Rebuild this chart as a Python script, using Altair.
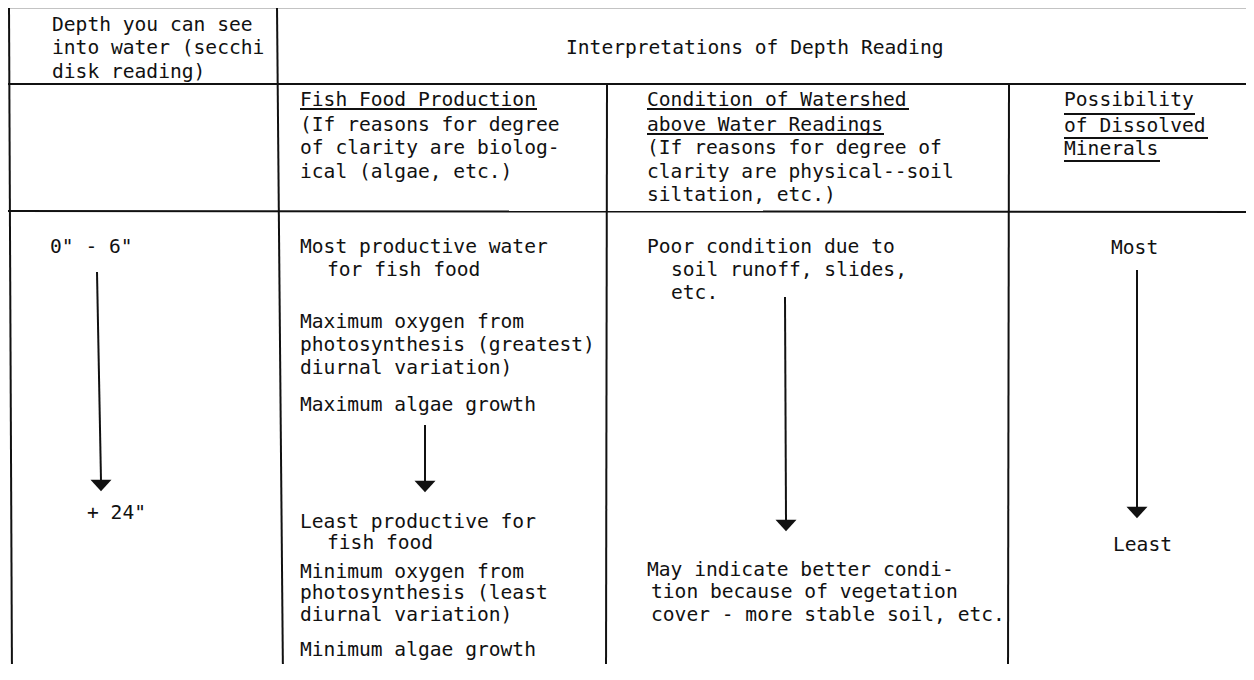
import altair as alt
import pandas as pd

# ---- table text (content, left x, line centre y) ----
TEXTS = [
    "Depth you can see", "into water (secchi", "disk reading)",
    "Interpretations of Depth Reading",
    "Fish Food Production", "(If reasons for degree", "of clarity are biolog-", "ical (algae, etc.)",
    "Condition of Watershed", "above Water Readings", "(If reasons for degree of",
    "clarity are physical--soil", "siltation, etc.)",
    "Possibility", "of Dissolved", "Minerals",
    '0" - 6"', '+ 24"',
    "Most productive water", "for fish food", "Maximum oxygen from",
    "photosynthesis (greatest)", "diurnal variation)", "Maximum algae growth",
    "Least productive for", "fish food", "Minimum oxygen from",
    "photosynthesis (least", "diurnal variation)", "Minimum algae growth",
    "Poor condition due to", "soil runoff, slides,", "etc.",
    "May indicate better condi-", "tion because of vegetation", "cover - more stable soil, etc.",
    "Most", "Least",
]
TEXT_X = [52, 52, 52,
          566,
          300, 300, 300, 300,
          647, 647, 647, 647, 647,
          1064, 1064, 1064,
          50, 87,
          300, 327, 300, 300, 300, 300,
          300, 327, 300, 300, 300, 300,
          647, 671, 671,
          647, 651, 651,
          1111, 1113]
TEXT_Y = [25, 48, 72,
          48,
          100, 125, 148, 172,
          100, 125, 148, 172, 195,
          100, 126, 149,
          247, 513,
          247, 270, 322, 345, 368, 405,
          522, 543, 572, 593, 615, 650,
          247, 270, 293,
          570, 592, 615,
          248, 545]

# ---- table grid lines ----
GRID_X1 = [8, 8, 8, 9, 277, 607, 1009]
GRID_X2 = [1254, 1254, 1254, 12, 283, 606, 1008]
GRID_Y1 = [7, 84, 211, 7, 7, 84, 84]
GRID_Y2 = [7, 84, 212, 680, 680, 680, 680]
GRID_W = [2.5, 2, 2, 2, 2, 2, 2]

# ---- underlines of column headings ----
UL_X1 = [300, 647, 647, 1064, 1064, 1064]
UL_X2 = [537, 909, 884, 1195, 1208, 1160]
UL_Y = [109, 109, 134, 114, 138, 161]

# ---- arrows (shaft top, shaft bottom, head) ----
AR_X1 = [97, 425, 785, 1137]
AR_X2 = [101, 425, 786, 1137]
AR_Y1 = [272, 425, 297, 270]
AR_Y2 = [481, 482, 520, 508]
HEAD_Y = [485, 486, 525, 512]

text_df = pd.DataFrame({"t": TEXTS, "x": TEXT_X, "y": TEXT_Y})
grid_df = pd.DataFrame({"x1": GRID_X1, "x2": GRID_X2, "y1": GRID_Y1, "y2": GRID_Y2, "w": GRID_W})
ul_df = pd.DataFrame({"x1": UL_X1, "x2": UL_X2, "y1": UL_Y, "y2": UL_Y})
ar_df = pd.DataFrame({"x1": AR_X1, "x2": AR_X2, "y1": AR_Y1, "y2": AR_Y2})
head_df = pd.DataFrame({"x": AR_X2, "y": HEAD_Y})

W, H = 1238, 656
xs = alt.Scale(domain=[8, 8 + W], nice=False, zero=False)
ys = alt.Scale(domain=[8, 8 + H], nice=False, zero=False, reverse=True)
INK = "#111111"

grid = alt.Chart(grid_df).mark_rule(color=INK).encode(
    x=alt.X("x1:Q", scale=xs, axis=None), x2="x2:Q",
    y=alt.Y("y1:Q", scale=ys, axis=None), y2="y2:Q",
    strokeWidth=alt.StrokeWidth("w:Q", scale=None, legend=None),
)
under = alt.Chart(ul_df).mark_rule(color=INK, strokeWidth=1.8).encode(
    x=alt.X("x1:Q", scale=xs, axis=None), x2="x2:Q",
    y=alt.Y("y1:Q", scale=ys, axis=None), y2="y2:Q",
)
shafts = alt.Chart(ar_df).mark_rule(color=INK, strokeWidth=2).encode(
    x=alt.X("x1:Q", scale=xs, axis=None), x2="x2:Q",
    y=alt.Y("y1:Q", scale=ys, axis=None), y2="y2:Q",
)
heads = alt.Chart(head_df).mark_point(
    shape="M-1,-0.5L1,-0.5L0,0.6Z", filled=True, size=441,
    color=INK, opacity=1, strokeWidth=0,
).encode(
    x=alt.X("x:Q", scale=xs, axis=None),
    y=alt.Y("y:Q", scale=ys, axis=None),
)
texts = alt.Chart(text_df).mark_text(
    align="left", baseline="middle", font="DejaVu Sans Mono",
    fontSize=19.6, color=INK,
).encode(
    x=alt.X("x:Q", scale=xs, axis=None),
    y=alt.Y("y:Q", scale=ys, axis=None),
    text="t:N",
)

chart = alt.layer(grid, under, shafts, heads, texts).properties(
    width=W, height=H,
    padding=0,
    autosize=alt.AutoSizeParams(type="none"),
    background="white",
).configure_view(strokeWidth=0)

chart.save("out.html", embed_options={"renderer": "svg", "actions": False})
